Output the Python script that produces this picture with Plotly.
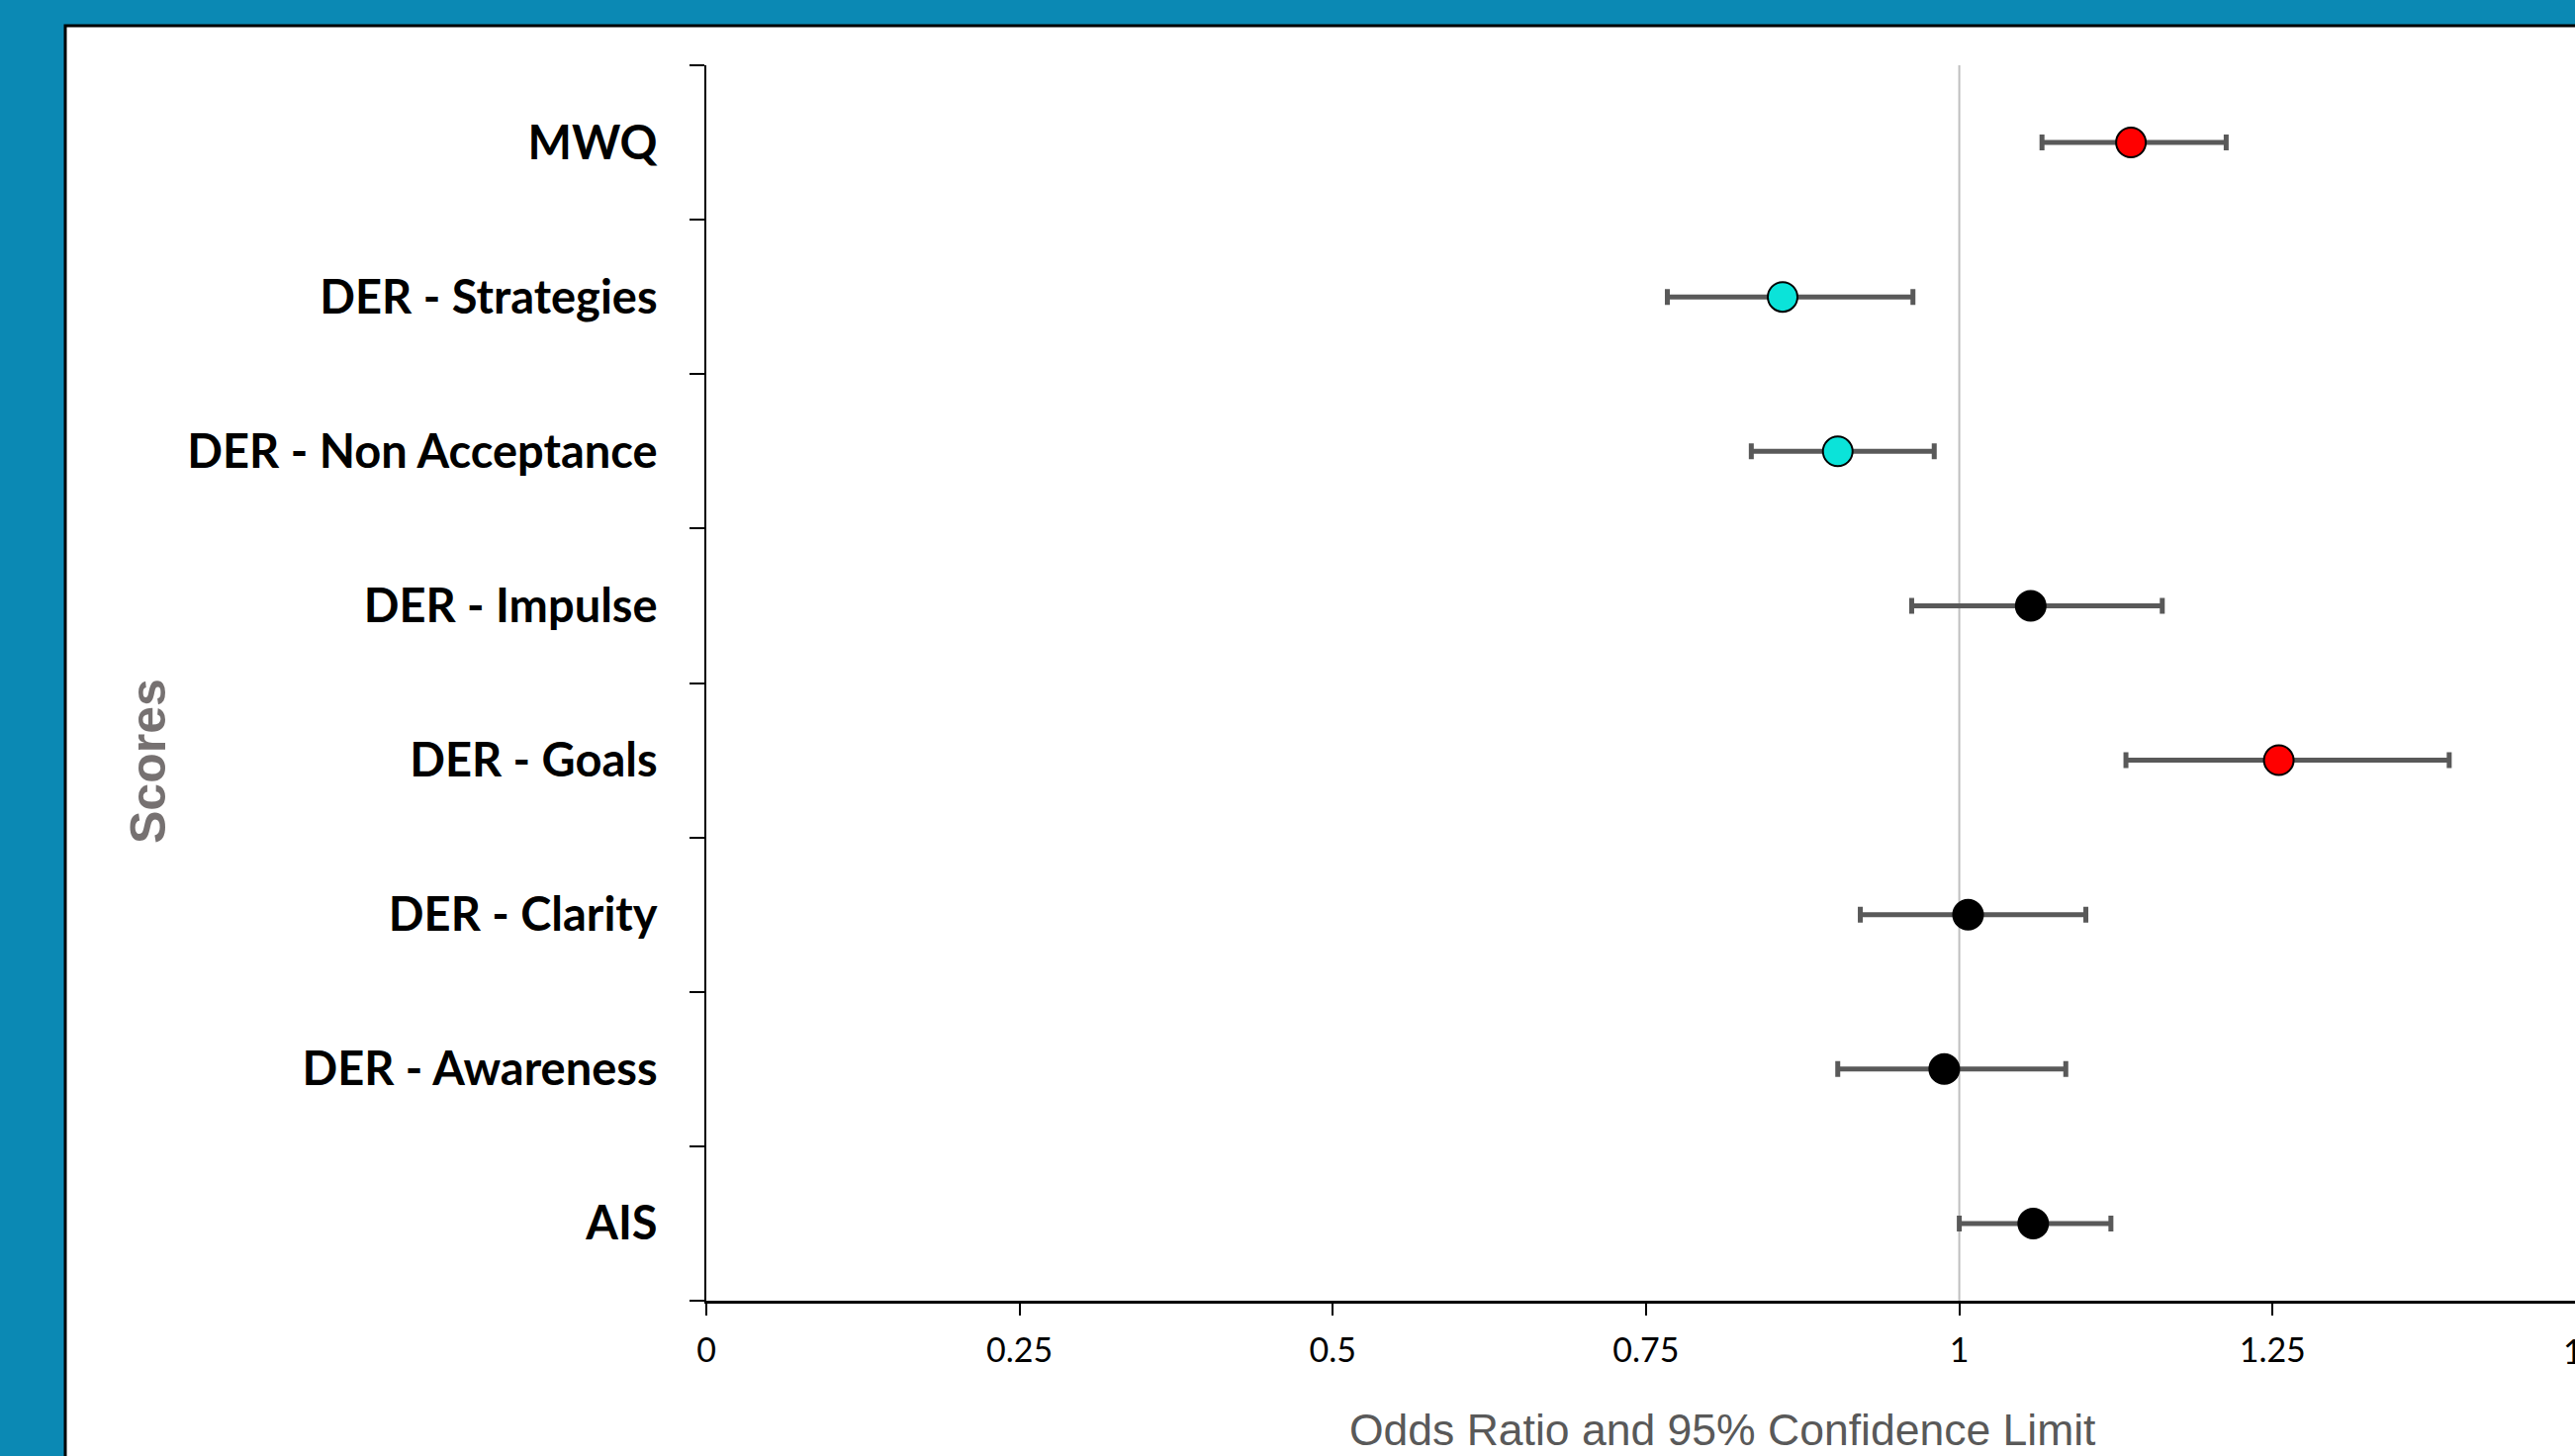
import plotly.graph_objects as go

# ---- data (bottom to top) ----
categories = ["AIS", "DER - Awareness", "DER - Clarity", "DER - Goals",
              "DER - Impulse", "DER - Non Acceptance", "DER - Strategies", "MWQ"]
odds_ratio = [1.059, 0.988, 1.007, 1.255, 1.057, 0.903, 0.859, 1.137]
ci_low     = [1.000, 0.903, 0.921, 1.133, 0.962, 0.834, 0.767, 1.066]
ci_high    = [1.121, 1.085, 1.101, 1.391, 1.162, 0.980, 0.963, 1.213]
point_colors = ["#000000", "#000000", "#000000", "#FF0000",
                "#000000", "#0BE3D9", "#0BE3D9", "#FF0000"]
x_tick_vals = [0, 0.25, 0.5, 0.75, 1, 1.25]
x_tick_text = ["0", "0.25", "0.5", "0.75", "1", "1.25"]
hidden_tick_text = "1.5"
x_title = "Odds Ratio and 95% Confidence Limit"
y_title = "Scores"

W, H = 2603, 1472
ML, MR, MT, MB = 714, 0, 66, 157
PW = W - ML - MR
PH = H - MT - MB
X_PER_UNIT = 1266.6
x_max = PW / X_PER_UNIT

def px_to_paper_x(px):
    return (px - ML) / PW

def py_to_paper_y(py):
    return (H - MB - py) / PH

err_plus = [h - o for h, o in zip(ci_high, odds_ratio)]
err_minus = [o - l for o, l in zip(odds_ratio, ci_low)]

fig = go.Figure()
fig.add_trace(go.Scatter(
    x=odds_ratio, y=categories, mode="markers",
    marker=dict(size=30, color=point_colors, line=dict(color="#000000", width=2)),
    error_x=dict(type="data", array=err_plus, arrayminus=err_minus,
                 color="#595959", thickness=5, width=8),
    showlegend=False, cliponaxis=False,
))

shapes = [
    # white panel with black frame
    dict(type="rect", xref="paper", yref="paper",
         x0=px_to_paper_x(66), x1=px_to_paper_x(W + 20),
         y0=py_to_paper_y(H + 20), y1=py_to_paper_y(26),
         fillcolor="white", line=dict(color="#000000", width=3), layer="below"),
    # reference line at 1
    dict(type="line", xref="x", yref="paper", x0=1, x1=1, y0=0, y1=1,
         line=dict(color="#BFBFBF", width=2), layer="below"),
]

annotations = [
    dict(text=x_title, xref="paper", yref="paper",
         x=px_to_paper_x(1741), y=py_to_paper_y(1445),
         xanchor="center", yanchor="middle", showarrow=False,
         font=dict(family="Liberation Sans, Arial", size=44.5, color="#595959")),
    dict(text=y_title, xref="paper", yref="paper",
         x=px_to_paper_x(150), y=py_to_paper_y(770),
         xanchor="center", yanchor="middle", showarrow=False, textangle=-90,
         font=dict(family="Liberation Sans, Arial", size=50, color="#767171",
                   weight="bold")),
    dict(text=hidden_tick_text, xref="paper", yref="paper",
         x=px_to_paper_x(2614), y=py_to_paper_y(1365),
         xanchor="center", yanchor="middle", showarrow=False,
         font=dict(family="Lato", size=34, color="#000000")),
]

fig.update_layout(
    width=W, height=H,
    margin=dict(l=ML, r=MR, t=MT, b=MB, autoexpand=False),
    paper_bgcolor="#0B89B4", plot_bgcolor="white",
    shapes=shapes, annotations=annotations,
    xaxis=dict(range=[0, x_max], tickmode="array", tickvals=x_tick_vals,
               ticktext=x_tick_text, ticks="outside", ticklen=12, tickwidth=2,
               tickcolor="#000000", showline=True, linecolor="#000000",
               linewidth=2.5, showgrid=False, zeroline=False,
               ticklabelstandoff=6,
               tickfont=dict(family="Lato", size=34, color="#000000")),
    yaxis=dict(type="category", categoryorder="array", categoryarray=categories,
               range=[-0.5, len(categories) - 0.5], tickson="boundaries",
               ticks="outside", ticklen=15, tickwidth=2, tickcolor="#000000",
               showline=True, linecolor="#000000", linewidth=2,
               showgrid=False, zeroline=False, ticklabelstandoff=38,
               tickfont=dict(family="Lato", size=47, color="#000000",
                             weight="bold")),
)

fig.write_html("out.html",
               config={"displayModeBar": False},
               post_script="document.body.style.margin='0';"
                           "document.body.style.overflow='hidden';")
